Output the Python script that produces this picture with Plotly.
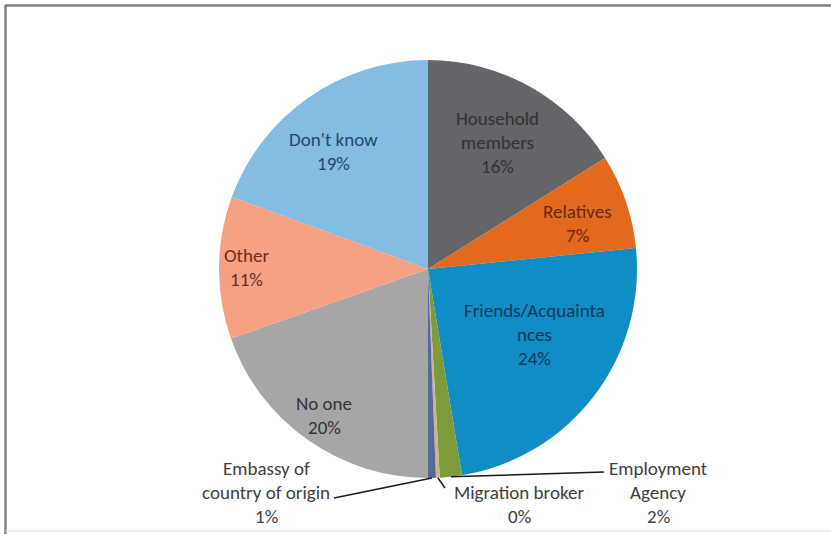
import math
import plotly.graph_objects as go

# ---- data ----
categories = ["Household members", "Relatives", "Friends/Acquaintances", "Employment Agency",
              "Migration broker", "Embassy of country of origin", "No one", "Other", "Don't know"]
label_lines = [["Household", "members"], ["Relatives"], ["Friends/Acquainta", "nces"],
               ["Employment", "Agency"], ["Migration broker"], ["Embassy of", "country of origin"],
               ["No one"], ["Other"], ["Don't know"]]
values = [16.1, 7.3, 24.0, 1.7, 0.3, 0.6, 19.6, 11.0, 19.4]
pct_labels = ["16%", "7%", "24%", "2%", "0%", "1%", "20%", "11%", "19%"]

# ---- style ----
colors = ["#646469", "#e36a1c", "#0f8dc4", "#7d9b3a", "#cbb68c", "#56689a", "#a6a6a6", "#f7a184", "#84bce2"]
text_colors = ["#333333", "#6a2a08", "#0d3a5c", "#404040", "#404040", "#404040", "#333333", "#6b2e1f", "#1f4a70"]
FONT = "Carlito, Calibri, Lato, sans-serif"
FS = 19
LINE = 24

W, H = 831, 534
CX, CY, R = 428, 269, 209

def px(x):
    return x / W

def py(y):
    return 1 - y / H

fig = go.Figure()
fig.add_trace(go.Pie(
    labels=categories, values=values, sort=False, direction="clockwise", rotation=0,
    marker=dict(colors=colors, line=dict(width=0)),
    textinfo="none", hoverinfo="label+percent", showlegend=False,
    domain=dict(x=[px(CX - R), px(CX + R)], y=[py(CY + R), py(CY - R)]),
))

total = sum(values)
cum = 0
mids = []
for v in values:
    mids.append((cum + v / 2) / total * 360)
    cum += v

def polar(theta_deg, r):
    t = math.radians(theta_deg)
    return CX + r * math.sin(t), CY - r * math.cos(t)

annotations = []
shapes = []

def add_block(x, y_center, lines, color):
    n = len(lines)
    for i, s in enumerate(lines):
        y = y_center + (i - (n - 1) / 2) * LINE
        annotations.append(dict(x=px(x), y=py(y), xref="paper", yref="paper", text=s, showarrow=False,
                                xanchor="center", yanchor="middle",
                                font=dict(family=FONT, size=FS, color=color)))

# inside labels: (radius factor, angle tweak)
inside = {0: (0.69, 0), 1: (0.75, 2), 2: (0.60, -6), 6: (0.86, 0), 7: (0.87, 0), 8: (0.72, -4)}
for i, (rf, dt) in inside.items():
    x, y = polar(mids[i] + dt, rf * R)
    add_block(x, y, label_lines[i] + [pct_labels[i]], text_colors[i])

# outside labels with leader lines
ex, ey = polar(mids[5], R)
add_block(266, 492, label_lines[5] + [pct_labels[5]], "#404040")
shapes.append(dict(type="line", xref="paper", yref="paper", x0=px(334), y0=py(498), x1=px(ex), y1=py(ey),
                   line=dict(color="#1a1a1a", width=1.5)))
bx, by = polar(mids[4], R)
add_block(519, 504, label_lines[4] + [pct_labels[4]], "#404040")
shapes.append(dict(type="line", xref="paper", yref="paper", x0=px(bx), y0=py(by), x1=px(445), y1=py(488),
                   line=dict(color="#1a1a1a", width=1.5)))
ax_, ay_ = polar(mids[3], R)
add_block(658, 492, label_lines[3] + [pct_labels[3]], "#404040")
shapes.append(dict(type="line", xref="paper", yref="paper", x0=px(ax_), y0=py(ay_), x1=px(604), y1=py(472),
                   line=dict(color="#1a1a1a", width=1.5)))

# chart frame
shapes.append(dict(type="line", xref="paper", yref="paper", x0=px(5), y0=py(5.5), x1=px(840), y1=py(5.5),
                   line=dict(color="#808080", width=2.5)))
shapes.append(dict(type="line", xref="paper", yref="paper", x0=px(5.5), y0=py(5), x1=px(5.5), y1=py(540),
                   line=dict(color="#808080", width=2.5)))
shapes.append(dict(type="line", xref="paper", yref="paper", x0=px(5), y0=py(531), x1=px(840), y1=py(531),
                   line=dict(color="#dcdcdc", width=1)))

fig.update_layout(
    width=W, height=H, margin=dict(l=0, r=0, t=0, b=0),
    paper_bgcolor="#ffffff", plot_bgcolor="#ffffff",
    annotations=annotations, shapes=shapes,
)

fig.write_html("out.html", config={"displayModeBar": False},
               post_script="document.body.style.margin='0';document.body.style.overflow='hidden';")
